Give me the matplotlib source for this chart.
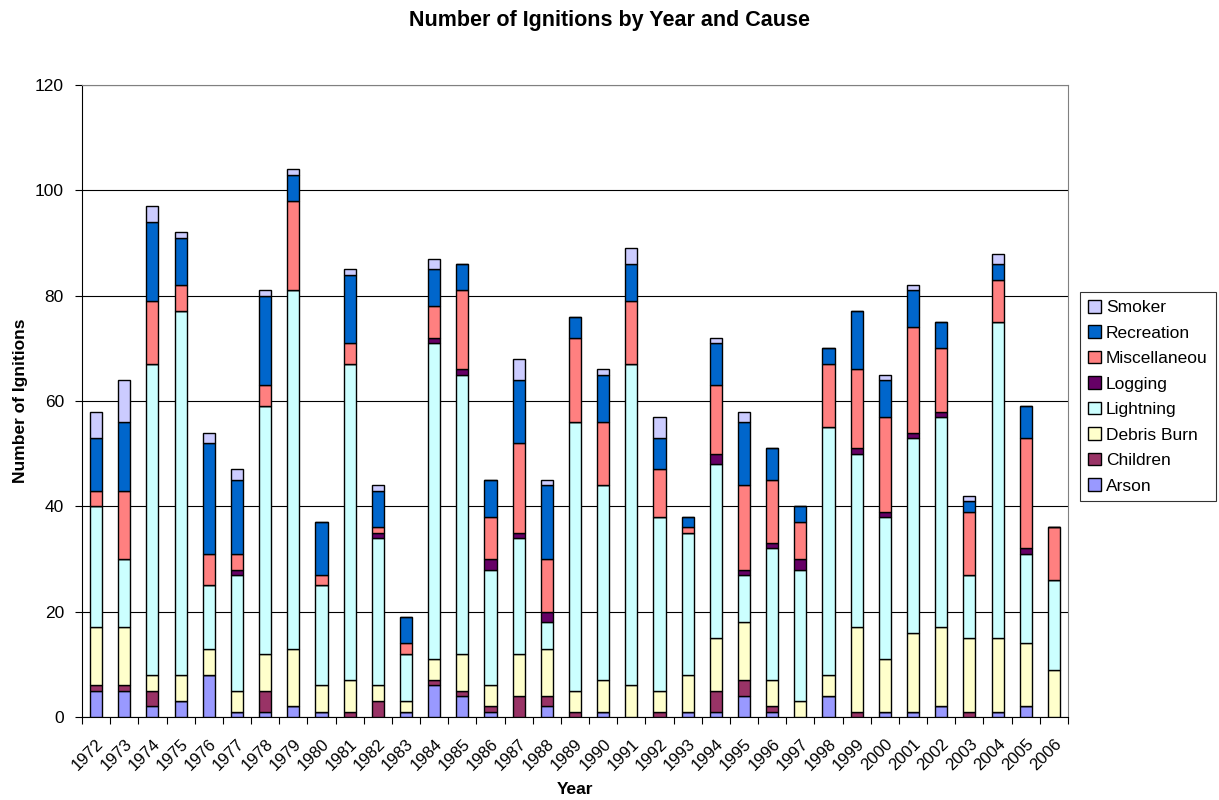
import matplotlib
matplotlib.use("Agg")
import matplotlib.pyplot as plt
import matplotlib.transforms as mtransforms
import numpy as np

plt.rcParams['font.family'] = ['Liberation Sans', 'DejaVu Sans']

years = list(range(1972, 2007))
arson =      [5,5,2,3,8,1,1,2,1,0,0,1,6,4,1,0,2,0,1,0,0,1,1,4,1,0,4,0,1,1,2,0,1,2,0]
children =   [1,1,3,0,0,0,4,0,0,1,3,0,1,1,1,4,2,1,0,0,1,0,4,3,1,0,0,1,0,0,0,1,0,0,0]
debris =     [11,11,3,5,5,4,7,11,5,6,3,2,4,7,4,8,9,4,6,6,4,7,10,11,5,3,4,16,10,15,15,14,14,12,9]
lightning =  [23,13,59,69,12,22,47,68,19,60,28,9,60,53,22,22,5,51,37,61,33,27,33,9,25,25,47,33,27,37,40,12,60,17,17]
logging =    [0,0,0,0,0,1,0,0,0,0,1,0,1,1,2,1,2,0,0,0,0,0,2,1,1,2,0,1,1,1,1,0,0,1,0]
misc =       [3,13,12,5,6,3,4,17,2,4,1,2,6,15,8,17,10,16,12,12,9,1,13,16,12,7,12,15,18,20,12,12,8,21,10]
recreation = [10,13,15,9,21,14,17,5,10,13,7,5,7,5,7,12,14,4,9,7,6,2,8,12,6,3,3,11,7,7,5,2,3,6,0]
smoker =     [5,8,3,1,2,2,1,1,0,1,1,0,2,0,0,4,1,0,1,3,4,0,1,2,0,0,0,0,1,1,0,1,2,0,0]

series = [
    ("Arson", arson, "#9999FF"),
    ("Children", children, "#993366"),
    ("Debris Burn", debris, "#FFFFCC"),
    ("Lightning", lightning, "#CCFFFF"),
    ("Logging", logging, "#660066"),
    ("Miscellaneou", misc, "#FF8080"),
    ("Recreation", recreation, "#0066CC"),
    ("Smoker", smoker, "#CCCCFF"),
]

fig = plt.figure(figsize=(12.19, 8.0), dpi=100)
ax = fig.add_axes([82/1219, 83/800, (1068-82)/1219, (717-85)/800])

x = np.arange(len(years))
bottom = np.zeros(len(years))
handles = []
for name, vals, col in series:
    v = np.array(vals, dtype=float)
    b = ax.bar(x, v, 0.43, bottom=bottom, color=col, edgecolor='black', linewidth=1.0, label=name, zorder=3)
    handles.append(b)
    bottom += v

ax.set_xlim(-0.5, len(years) - 0.5)
ax.set_ylim(0, 120)
ax.set_yticks(range(0, 121, 20))
ax.yaxis.grid(True, color='black', linewidth=0.8, zorder=0)
ax.set_axisbelow(True)

ax.set_xticks(x)
ax.set_xticklabels([str(y) for y in years], rotation=45, ha='right', rotation_mode='anchor', fontsize=12)
offset = mtransforms.ScaledTranslation(-8/100, 0, fig.dpi_scale_trans)
for lbl in ax.get_xticklabels():
    lbl.set_transform(lbl.get_transform() + offset)
ax.set_xticks(np.arange(-0.5, len(years), 1), minor=True)
ax.tick_params(axis='x', which='major', length=0, pad=14)
ax.tick_params(axis='x', which='minor', length=5, width=0.8, direction='out')
ax.tick_params(axis='y', length=5, width=0.8, labelsize=12.5, direction='out', pad=8)

for side in ['top', 'right']:
    ax.spines[side].set_color('#808080')
ax.spines['left'].set_color('black')
ax.spines['bottom'].set_color('black')

ax.set_ylabel("Number of Ignitions", fontsize=12.5, fontweight='bold', labelpad=5)
ax.set_xlabel("Year", fontsize=12.5, fontweight='bold', labelpad=6)
fig.text(0.5, 0.974, "Number of Ignitions by Year and Cause", ha='center', va='center',
         fontsize=15.5, fontweight='bold')

leg = fig.legend(handles[::-1], [s[0] for s in series][::-1], loc='upper left',
                 bbox_to_anchor=(1080/1219, 1 - 292/800), fontsize=12.5, frameon=True,
                 fancybox=False, edgecolor='black', handlelength=0.75, handleheight=0.75,
                 handletextpad=0.3, labelspacing=0.58, borderpad=0.45, borderaxespad=0)
leg.get_frame().set_linewidth(0.8)

fig.savefig("out.png", dpi=100)
